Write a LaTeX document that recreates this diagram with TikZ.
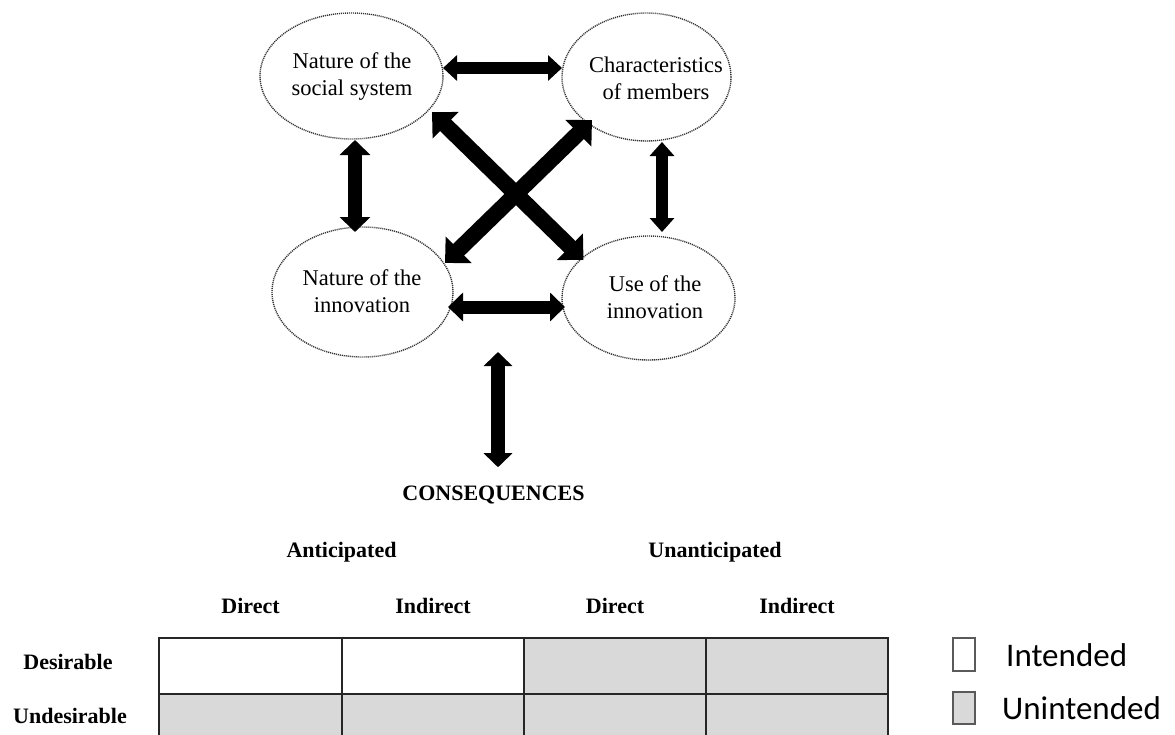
\documentclass[tikz,border=0pt]{standalone}
\usepackage{fontspec}
\setmainfont{Liberation Serif}
\newfontfamily\legendfont{Carlito}
\usetikzlibrary{arrows.meta,shapes.geometric}

\definecolor{cellgray}{HTML}{D9D9D9}
\definecolor{gridline}{HTML}{262626}
\definecolor{boxline}{HTML}{5A5A5A}

\tikzset{
  factor/.style={ellipse, draw=black!80, line width=1.4pt,
    dash pattern=on 1.1pt off 0.9pt, inner sep=0pt, outer sep=0pt},
  factortext/.style={align=center, inner sep=0pt,
    font=\fontsize{22.5}{27}\selectfont},
  dbl/.style n args={3}{line width=#1,
    arrows={Triangle[width=#2,length=#3]-Triangle[width=#2,length=#3]}},
  head/.style={inner sep=0pt, anchor=base, font=\fontsize{22}{26}\selectfont\bfseries},
  legtext/.style={inner sep=0pt, anchor=base west, font=\legendfont\fontsize{33}{38}\selectfont},
  legbox/.style={draw=boxline, line width=1.5pt},
}

\begin{document}
\begin{tikzpicture}[x=1pt, y=-1pt]
\useasboundingbox (0,0) rectangle (1175,734);
\fill[white] (0,0) rectangle (1175,734);

% the four interacting factors
\node[factor, minimum width=183pt, minimum height=126pt] (tl) at (351.5,76) {};
\node[factor, minimum width=169pt, minimum height=128pt] (tr) at (646.5,77) {};
\node[factor, minimum width=181pt, minimum height=130pt] (bl) at (362.5,292) {};
\node[factor, minimum width=173pt, minimum height=124pt] (br) at (648.5,298) {};

\node[factortext] (tltext) at (352,76.5) {Nature of the\\social system};
\node[factortext] (trtext) at (656,78) {Characteristics\\of members};
\node[factortext] (bltext) at (362,291) {Nature of the\\innovation};
\node[factortext] (brtext) at (655,297) {Use of the\\innovation};

% two-way influences between the factors
\draw[dbl={12pt}{25pt}{14pt}] ([yshift=8pt]tl.east) -- ([yshift=9pt]tr.west);
\draw[dbl={13pt}{28pt}{15pt}] ([shift={(-5pt,-15pt)}]bl.east) -- ([shift={(3pt,-9pt)}]br.west);
\draw[dbl={14pt}{30pt}{15pt}] ([shift={(3.5pt,-1pt)}]tl.south) -- ([shift={(-7.5pt,-5pt)}]bl.north);
\draw[dbl={12pt}{24pt}{14pt}] ([shift={(15.5pt,-1pt)}]tr.south) -- ([shift={(13.5pt,4pt)}]br.north);
\draw[dbl={16pt}{36pt}{19pt}] ([shift={(80.5pt,-36pt)}]tl.center) -- ([shift={(-65pt,38pt)}]br.center);
\draw[dbl={16pt}{36pt}{19pt}] ([shift={(-54.5pt,-43pt)}]tr.center) -- ([shift={(82.5pt,29pt)}]bl.center);

% consequences
\coordinate (mid) at (498,352);
\node[head] (cons) at (493.5,500) {CONSEQUENCES};
\draw[dbl={14pt}{28pt}{14pt}] (mid) -- ([shift={(4.5pt,18pt)}]cons.north);

\node[head] (ant) at (341.5,557) {Anticipated};
\node[head] (unant) at (715,557) {Unanticipated};
\node[head] (d1) at (250.5,613) {Direct};
\node[head] (i1) at (433,613) {Indirect};
\node[head] (d2) at (615,613) {Direct};
\node[head] (i2) at (797,613) {Indirect};
\node[head] (des) at (68,669) {Desirable};
\node[head] (undes) at (70,723) {Undesirable};

% grid of consequence types
\begin{scope}
\clip (0,0) rectangle (1175,734);
\fill[white] (159,638) rectangle (524,694);
\fill[cellgray] (524,638) rectangle (888,694);
\fill[cellgray] (159,694) rectangle (888,750);
\draw[gridline, line width=2pt] (159,638) rectangle (888,750);
\draw[gridline, line width=2pt] (159,694) -- (888,694);
\foreach \x in {342,524,706} \draw[gridline, line width=2pt] (\x,638) -- (\x,750);
\end{scope}

% legend
\fill[white] (953,638) rectangle (975,671);
\draw[legbox] (953,638) rectangle (975,671);
\fill[cellgray] (953,692) rectangle (975,724);
\draw[legbox] (953,692) rectangle (975,724);
\node[legtext] (leg1) at (1006,666) {Intended};
\node[legtext] (leg2) at (1002,719) {Unintended};
\end{tikzpicture}
\end{document}
